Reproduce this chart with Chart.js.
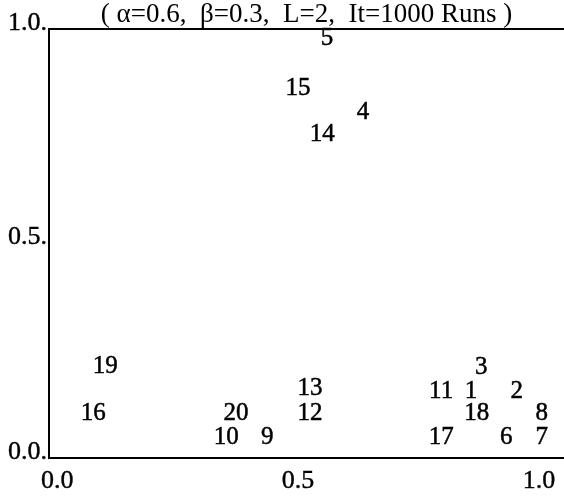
<!DOCTYPE html>
<html>
<head>
<meta charset="utf-8">
<script src="https://cdn.jsdelivr.net/npm/chart.js@4/dist/chart.umd.min.js"></script>
<style>
html,body{margin:0;padding:0;background:#fff;}
#wrap{width:564px;height:496px;}
</style>
</head>
<body>
<div id="wrap"><canvas id="c" width="564" height="496"></canvas></div>
<script>
// Run labels and their (x, y) positions
const runLabels = ['1','2','3','4','5','6','7','8','9','10','11','12','13','14','15','16','17','18','19','20'];
const xValues = [0.859,0.954,0.880,0.635,0.560,0.932,1.006,1.006,0.436,0.351,0.797,0.525,0.525,0.550,0.500,0.075,0.797,0.871,0.100,0.371];
const yValues = [0.156,0.156,0.210,0.806,0.977,0.049,0.049,0.103,0.049,0.049,0.156,0.105,0.161,0.755,0.862,0.105,0.049,0.103,0.213,0.105];
const tickValues = [0, 0.5, 1.0];
const titleText = '( \u03b1=0.6,  \u03b2=0.3,  L=2,  It=1000 Runs )';

const FONT = '"Liberation Serif", "Times New Roman", serif';
const points = runLabels.map((l, i) => ({x: xValues[i], y: yValues[i], label: l}));

const textLabels = {
  id: 'textLabels',
  afterDatasetsDraw(chart) {
    const ctx = chart.ctx;
    const meta = chart.getDatasetMeta(0);
    ctx.save();
    ctx.font = '25px ' + FONT;
    ctx.fillStyle = '#000';
    ctx.strokeStyle = '#000';
    ctx.lineWidth = 0.5;
    ctx.textAlign = 'center';
    ctx.textBaseline = 'middle';
    meta.data.forEach((el, i) => {
      ctx.fillText(points[i].label, el.x, el.y);
      ctx.strokeText(points[i].label, el.x, el.y);
    });
    ctx.restore();
  }
};

const frame = {
  id: 'frame',
  afterDraw(chart) {
    const {ctx, chartArea} = chart;
    ctx.save();
    ctx.strokeStyle = '#000';
    ctx.lineWidth = 2;
    ctx.beginPath();
    ctx.moveTo(chartArea.left, chartArea.top);
    ctx.lineTo(chart.width, chartArea.top);
    ctx.stroke();
    ctx.restore();
  }
};

new Chart(document.getElementById('c'), {
  type: 'scatter',
  data: {
    datasets: [{
      data: points,
      pointRadius: 0,
      pointHoverRadius: 0,
      showLine: false
    }]
  },
  options: {
    responsive: false,
    animation: false,
    events: [],
    layout: {padding: {left: 0, right: 0, top: 0, bottom: 0}},
    plugins: {
      legend: {display: false},
      tooltip: {enabled: false},
      title: {
        display: true,
        fullSize: false,
        text: titleText,
        color: '#000',
        font: {family: FONT, size: 27, weight: 'normal', lineHeight: 1.0},
        padding: {top: 1, bottom: 1}
      }
    },
    scales: {
      x: {
        type: 'linear',
        min: -0.017,
        max: 1.052,
        afterBuildTicks: (s) => { s.ticks = tickValues.map(v => ({value: v})); },
        afterFit: (s) => { s.height = 38; },
        grid: {display: false, drawTicks: false},
        border: {display: true, color: '#000', width: 2},
        ticks: {
          color: '#000',
          font: {family: FONT, size: 26},
          padding: 8,
          maxRotation: 0,
          autoSkip: false,
          textStrokeColor: '#000',
          textStrokeWidth: 0.4,
          callback: (v) => Number(v).toFixed(1)
        }
      },
      y: {
        type: 'linear',
        min: 0,
        max: 1,
        afterBuildTicks: (s) => { s.ticks = tickValues.map(v => ({value: v})); },
        afterFit: (s) => { s.width = 49; },
        grid: {display: false, drawTicks: false},
        border: {display: true, color: '#000', width: 2},
        ticks: {
          color: '#000',
          font: {family: FONT, size: 26},
          padding: 2,
          labelOffset: -6,
          autoSkip: false,
          textStrokeColor: '#000',
          textStrokeWidth: 0.4,
          callback: (v) => Number(v).toFixed(1) + '.'
        }
      }
    }
  },
  plugins: [textLabels, frame]
});
</script>
</body>
</html>
